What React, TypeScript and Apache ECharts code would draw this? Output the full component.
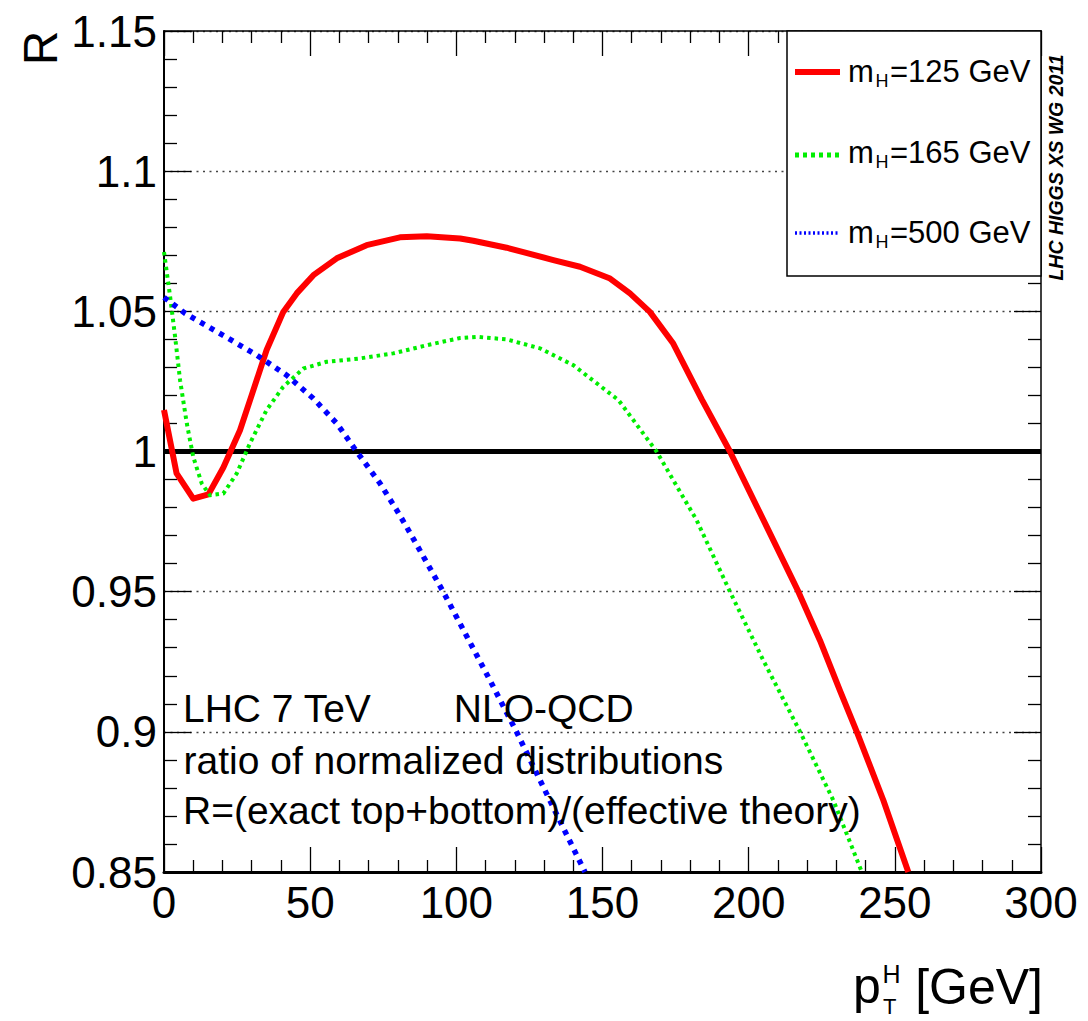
import React, { useEffect, useRef } from "react";
import * as echarts from "echarts";

// ---- data ----
const xRange = [0, 300];
const yRange = [0.85, 1.15];
const xInterval = 50;
const yInterval = 0.05;

const massLabels = ["125", "165", "500"];
const seriesColors = ["#ff0000", "#00ee00", "#0000ff"];

const refLine: number[][] = [
  [0, 1],
  [300, 1],
];

const mH125: number[][] = [
  [0, 1.0148], [4.3, 0.9922], [10, 0.9832], [15.2, 0.9847], [20.3, 0.9943],
  [26, 1.0076], [30, 1.0201], [35.1, 1.0362], [40.8, 1.0498], [45.4, 1.0564],
  [51.1, 1.0629], [59.1, 1.0689], [69.3, 1.0736], [80.7, 1.0764], [89.9, 1.0768],
  [101.3, 1.076], [105.8, 1.0752], [117.2, 1.0727], [133.2, 1.0683], [142.3, 1.0659],
  [152.6, 1.0617], [159.4, 1.0564], [166.2, 1.0498], [174.2, 1.0385], [184, 1.0185],
  [193.6, 1.0], [206.2, 0.9731], [217, 0.95], [224.4, 0.9326], [231.2, 0.9148],
  [237, 0.9], [246.1, 0.8755], [254.6, 0.85],
];

const mH165: number[][] = [
  [0, 1.0712], [2.1, 1.0552], [3.8, 1.0409], [5.5, 1.0254], [7.8, 1.01],
  [10, 0.9981], [12.9, 0.9886], [15.7, 0.9844], [20.3, 0.985], [24.9, 0.9922],
  [29.4, 1.0029], [35.1, 1.0148], [40.8, 1.0231], [47.7, 1.0296], [55.6, 1.032],
  [67, 1.0332], [78.4, 1.035], [89.9, 1.0379], [101.3, 1.0405], [107, 1.0409],
  [117.2, 1.04], [128.6, 1.0368], [140, 1.0308], [155.5, 1.0183], [168.5, 1.0],
  [182.2, 0.9755], [193.6, 0.95], [205, 0.9255], [217.6, 0.9], [229, 0.8755],
  [238.7, 0.85],
];

const mH500: number[][] = [
  [0, 1.055], [7.2, 1.0493], [21.4, 1.0407], [31.7, 1.0344], [42, 1.0272],
  [51.1, 1.0189], [59.1, 1.01], [65.9, 1.0], [73.9, 0.9886], [79.6, 0.9791],
  [83, 0.9731], [95.5, 0.95], [111.5, 0.9184], [120.6, 0.9], [132, 0.8755],
  [144, 0.85],
];

const annotationLines = [
  "LHC 7 TeV",
  "NLO-QCD",
  "ratio of normalized distributions",
  "R=(exact top+bottom)/(effective theory)",
];
const yTitle = "R";
const watermark = "LHC HIGGS XS WG 2011";

const FONT = "'Liberation Sans', Arial, Helvetica, sans-serif";

// text positioned by its baseline (SVG renderer uses central baseline)
function txt(x: number, baseline: number, text: string, fs: number, extra: any = {}) {
  return {
    type: "text",
    z: 100,
    x,
    y: baseline - 0.3465 * fs,
    style: {
      text,
      fontSize: fs,
      lineHeight: fs,
      fontFamily: FONT,
      fill: "#000",
      align: "left",
      verticalAlign: "middle",
      ...(extra.style || {}),
    },
    ...(extra.el || {}),
  };
}

export default function App() {
  const ref = useRef<HTMLDivElement>(null);

  useEffect(() => {
    document.body.style.margin = "0";
    if (!ref.current) return;
    const chart = echarts.init(ref.current, null, { renderer: "svg" });

    const tickStyle = { color: "#000", width: 1.3 };
    const commonX = {
      type: "value",
      min: xRange[0],
      max: xRange[1],
      interval: xInterval,
      splitLine: { show: false },
    };
    const commonY = {
      type: "value",
      min: yRange[0],
      max: yRange[1],
      interval: yInterval,
    };

    const legendRows = [
      { base: 82, lineY: 72, dash: "solid" as any, width: 6 },
      { base: 163.5, lineY: 155, dash: [4, 4], width: 5 },
      { base: 243, lineY: 233, dash: [2, 2.5], width: 3.5 },
    ];

    const graphics: any[] = [
      // legend box
      {
        type: "rect",
        z: 90,
        shape: { x: 787, y: 31, width: 254, height: 245 },
        style: { fill: "#fff", stroke: "#000", lineWidth: 1.5 },
      },
    ];
    legendRows.forEach((r, i) => {
      graphics.push({
        type: "line",
        z: 100,
        shape: { x1: 795, y1: r.lineY, x2: 840, y2: r.lineY },
        style: {
          stroke: seriesColors[i],
          lineWidth: r.width,
          lineDash: r.dash === "solid" ? null : r.dash,
        },
      });
      graphics.push(txt(848, r.base, "m", 31));
      graphics.push(txt(875.5, r.base + 5, "H", 18));
      graphics.push(txt(890, r.base, "=" + massLabels[i] + " GeV", 31));
    });

    // annotations
    graphics.push(txt(183, 722, annotationLines[0], 39));
    graphics.push(txt(453.8, 722, annotationLines[1], 39));
    graphics.push(txt(183.5, 774, annotationLines[2], 39));
    graphics.push(txt(183, 824, annotationLines[3], 39));

    // axis titles
    graphics.push({
      type: "text",
      z: 100,
      x: 40.4,
      y: 48,
      rotation: Math.PI / 2,
      style: {
        text: yTitle,
        fontSize: 48,
        lineHeight: 48,
        fontFamily: FONT,
        fill: "#000",
        align: "center",
        verticalAlign: "middle",
      },
    });
    graphics.push(txt(853, 1003, "p", 50));
    graphics.push(txt(882.5, 983, "H", 25));
    graphics.push(txt(883, 1014, "T", 22, { style: { lineHeight: 16 } }));
    graphics.push(txt(1043, 1004, "[GeV]", 50, { style: { align: "right" } }));

    // watermark
    graphics.push({
      type: "text",
      z: 100,
      x: 1056,
      y: 167.5,
      rotation: Math.PI / 2,
      style: {
        text: watermark,
        fontSize: 19.5,
        fontWeight: "bold",
        fontStyle: "italic",
        fontFamily: FONT,
        fill: "#000",
        align: "center",
        verticalAlign: "middle",
      },
    });

    const lineSeries = (name: string, data: number[][], color: string, width: number, dash: any) => ({
      name,
      type: "line",
      data,
      showSymbol: false,
      symbol: "none",
      clip: true,
      silent: true,
      lineStyle: { color, width, type: dash, cap: "butt", join: "round" },
    });

    chart.setOption({
      animation: false,
      backgroundColor: "#fff",
      grid: { left: 164, right: 47, top: 31, bottom: 149, containLabel: false },
      xAxis: [
        {
          ...commonX,
          position: "bottom",
          axisLine: { show: true, lineStyle: { color: "#000", width: 3 } },
          axisTick: { show: true, inside: true, length: 25, lineStyle: tickStyle },
          minorTick: { show: true, splitNumber: 5, length: 12, lineStyle: tickStyle },
          axisLabel: { show: true, fontSize: 44, color: "#000", fontFamily: FONT, margin: 8 },
        },
        {
          ...commonX,
          position: "top",
          axisLine: { show: true, onZero: false, lineStyle: { color: "#000", width: 1.5 } },
          axisTick: { show: true, inside: true, length: 25, lineStyle: tickStyle },
          minorTick: { show: true, splitNumber: 5, length: 12, lineStyle: tickStyle },
          axisLabel: { show: false },
        },
      ],
      yAxis: [
        {
          ...commonY,
          position: "left",
          axisLine: { show: true, onZero: false, lineStyle: { color: "#000", width: 2 } },
          axisTick: { show: true, inside: true, length: 27, lineStyle: tickStyle },
          minorTick: { show: true, splitNumber: 5, length: 13, lineStyle: tickStyle },
          axisLabel: {
            show: true,
            fontSize: 44,
            color: "#000",
            fontFamily: FONT,
            margin: 7,
            formatter: (v: number) => String(parseFloat(v.toFixed(2))),
          },
          splitLine: {
            show: true,
            lineStyle: { color: "#444", width: 1.3, type: [2, 4.5] },
          },
        },
        {
          ...commonY,
          position: "right",
          axisLine: { show: true, onZero: false, lineStyle: { color: "#000", width: 1.5 } },
          axisTick: { show: true, inside: true, length: 27, lineStyle: tickStyle },
          minorTick: { show: true, splitNumber: 5, length: 13, lineStyle: tickStyle },
          axisLabel: { show: false },
          splitLine: { show: false },
        },
      ],
      series: [
        lineSeries("ref", refLine, "#000", 5, "solid"),
        lineSeries("mH=125 GeV", mH125, seriesColors[0], 6, "solid"),
        lineSeries("mH=165 GeV", mH165, seriesColors[1], 4, [3.5, 4]),
        lineSeries("mH=500 GeV", mH500, seriesColors[2], 5.5, [5, 6]),
      ],
      graphic: graphics,
    });

    return () => chart.dispose();
  }, []);

  return <div ref={ref} style={{ width: 1088, height: 1021 }} />;
}
